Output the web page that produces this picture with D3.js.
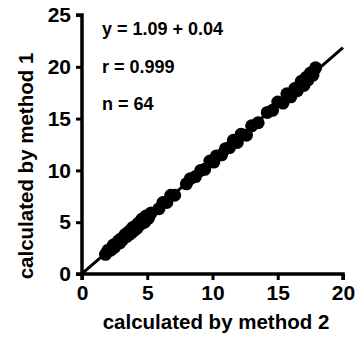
<!DOCTYPE html>
<html>
<head>
<meta charset="utf-8">
<script src="https://cdn.jsdelivr.net/npm/d3@7"></script>
<style>
  html, body { margin: 0; padding: 0; background: #fff; }
  svg { display: block; font-family: "Liberation Sans", Arial, sans-serif; font-weight: bold; }
</style>
</head>
<body>
<svg id="chart" width="355" height="341"></svg>
<script>
// method 2 (x) vs method 1 (y), 64 paired samples
var method2 = [1.8, 2.0, 2.2, 2.4, 2.5, 2.6, 2.8, 2.9, 3.0, 3.1, 3.3, 3.4, 3.5, 3.6, 3.7, 3.8,
  3.9, 4.0, 4.1, 4.2, 4.3, 4.5, 4.6, 4.8, 4.9, 5.1, 5.3, 5.9, 6.2, 6.5, 6.8, 7.1,
  8.0, 8.3, 8.7, 9.1, 9.4, 9.8, 10.1, 10.3, 10.7, 11.0, 11.3, 11.6, 11.9, 12.2, 12.6, 13.0,
  13.5, 14.2, 14.6, 15.0, 15.4, 15.7, 16.0, 16.3, 16.5, 16.8, 17.0, 17.2, 17.3, 17.5, 17.7, 17.9];
var method1 = [1.9, 2.3, 2.3, 2.8, 2.6, 2.9, 3.2, 3.0, 3.4, 3.3, 3.8, 3.6, 4.0, 3.8, 4.2, 4.0,
  4.5, 4.2, 4.6, 4.4, 4.9, 4.8, 5.3, 5.0, 5.6, 5.4, 5.9, 6.3, 6.9, 6.9, 7.6, 7.6,
  8.7, 9.2, 9.4, 10.0, 10.1, 10.9, 10.8, 11.4, 11.5, 12.1, 12.2, 12.9, 12.7, 13.5, 13.4, 14.3,
  14.6, 15.6, 15.8, 16.6, 16.5, 17.4, 17.1, 17.9, 17.7, 18.6, 18.2, 19.0, 18.7, 19.4, 19.2, 19.9];
var xTicks = [0, 5, 10, 15, 20];
var yTicks = [0, 5, 10, 15, 20, 25];
var fitSlope = 1.09, fitIntercept = 0.04;
var statLines = ["y = 1.09 + 0.04", "r = 0.999", "n = 64"];

var svg = d3.select("#chart");
var x = d3.scaleLinear().domain([0, 20]).range([82, 343]);
var y = d3.scaleLinear().domain([0, 25]).range([274, 15]);

// fit line
var lineX = [0, 20];
svg.append("path")
  .attr("d", d3.line().x(function (d) { return x(d); }).y(function (d) { return y(fitSlope * d + fitIntercept); })(lineX))
  .attr("stroke", "#000").attr("stroke-width", 3).attr("fill", "none");

// points
svg.append("g").selectAll("circle").data(method2).enter().append("circle")
  .attr("cx", function (d) { return x(d); })
  .attr("cy", function (d, i) { return y(method1[i]); })
  .attr("r", 6.5).attr("fill", "#000");

// axes
var xAxis = svg.append("g").attr("transform", "translate(0,274)")
  .call(d3.axisBottom(x).tickValues(xTicks).tickSize(6).tickPadding(5));
var yAxis = svg.append("g").attr("transform", "translate(82,0)")
  .call(d3.axisLeft(y).tickValues(yTicks).tickSize(6).tickPadding(5));
[xAxis, yAxis].forEach(function (a) {
  a.select(".domain").attr("stroke-width", 3.5).attr("stroke", "#000");
  a.selectAll(".tick line").attr("stroke-width", 3).attr("stroke", "#000");
  a.selectAll("text").attr("font-size", 21).attr("font-weight", "bold")
    .attr("font-family", "Liberation Sans, Arial, sans-serif").attr("fill", "#000");
});
xAxis.select(".domain").attr("d", "M82,6V0H343V6");
yAxis.select(".domain").attr("d", "M-6,15H0V274H-6");

// titles
svg.append("text").attr("x", 216).attr("y", 329).attr("text-anchor", "middle")
  .attr("font-size", 20.5).text("calculated by method 2");
svg.append("text").attr("transform", "translate(33,166) rotate(-90)").attr("text-anchor", "middle")
  .attr("font-size", 20.5).text("calculated by method 1");

// stats
svg.append("g").selectAll("text").data(statLines).enter().append("text")
  .attr("x", 102).attr("y", function (d, i) { return 35 + i * 37.5; })
  .attr("font-size", 18).text(function (d) { return d; });
</script>
</body>
</html>
